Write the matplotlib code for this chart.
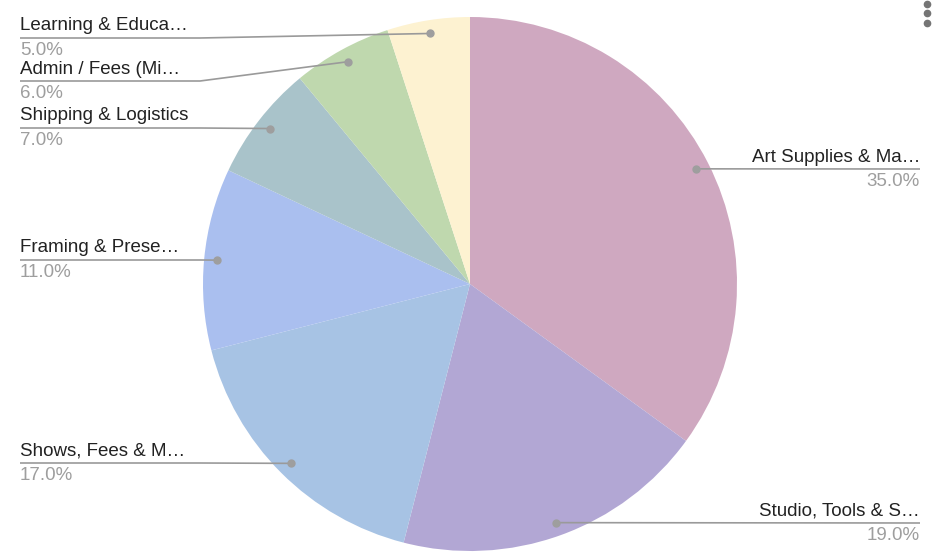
import numpy as np
import matplotlib
matplotlib.use("Agg")
import matplotlib.pyplot as plt

plt.rcParams['font.family'] = ['Liberation Sans', 'DejaVu Sans']

# datos del grafico
categorias = ['Art Supplies & Ma…', 'Studio, Tools & S…', 'Shows, Fees & M…',
              'Framing & Prese…', 'Shipping & Logistics', 'Admin / Fees (Mi…',
              'Learning & Educa…']
valores = [35.0, 19.0, 17.0, 11.0, 7.0, 6.0, 5.0]
colores = ['#cfa8c0', '#b2a7d4', '#a7c3e4', '#aabfef', '#a9c3ca', '#bfd8ae', '#fdf2d1']

# posicion de las etiquetas (y de la linea, en pixeles desde arriba) y lado
linea_y = [169, 523, 463, 260, 128, 81, 38]
lado = ['der', 'der', 'izq', 'izq', 'izq', 'izq', 'izq']

W, H = 936, 560
fig = plt.figure(figsize=(W / 100, H / 100), dpi=100)
ax = fig.add_axes([0, 0, 1, 1])

centro = (470, H - 284)
radio = 267
wedges, _ = ax.pie(valores, colors=colores, startangle=90, counterclock=False,
                   center=centro, radius=radio,
                   wedgeprops=dict(linewidth=0, edgecolor='none'))
ax.set_xlim(0, W)
ax.set_ylim(0, H)
ax.set_aspect('equal')
ax.axis('off')

gris_linea = '#9a9a9a'
for w, cat, val, ly, sd in zip(wedges, categorias, valores, linea_y, lado):
    ang = np.deg2rad((w.theta1 + w.theta2) / 2)
    px = centro[0] + 0.95 * radio * np.cos(ang)
    py = centro[1] + 0.95 * radio * np.sin(ang)
    y = H - ly
    if sd == 'izq':
        codo = min(200, px)
        ax.plot([20, codo, px], [y, y, py], color=gris_linea, lw=1.2,
                solid_capstyle='butt', zorder=3)
        x_txt, ha = 20, 'left'
    else:
        ax.plot([px, 920], [py, y], color=gris_linea, lw=1.2,
                solid_capstyle='butt', zorder=3)
        x_txt, ha = 920, 'right'
    ax.plot(px, py, 'o', color='#9e9e9e', ms=5, zorder=4)
    ax.text(x_txt, y + 7.5, cat, ha=ha, va='baseline', fontsize=13.5, color='#222222')
    ax.text(x_txt, y - 17, f'{val:.1f}%', ha=ha, va='baseline', fontsize=13.5,
            color='#9e9e9e')

# menu de tres puntos
ax.plot([927, 927, 927], [H - 3.5, H - 13, H - 22.5], 'o', color='#757575', ms=4.5,
        clip_on=False)

fig.savefig('out.png', dpi=100)
